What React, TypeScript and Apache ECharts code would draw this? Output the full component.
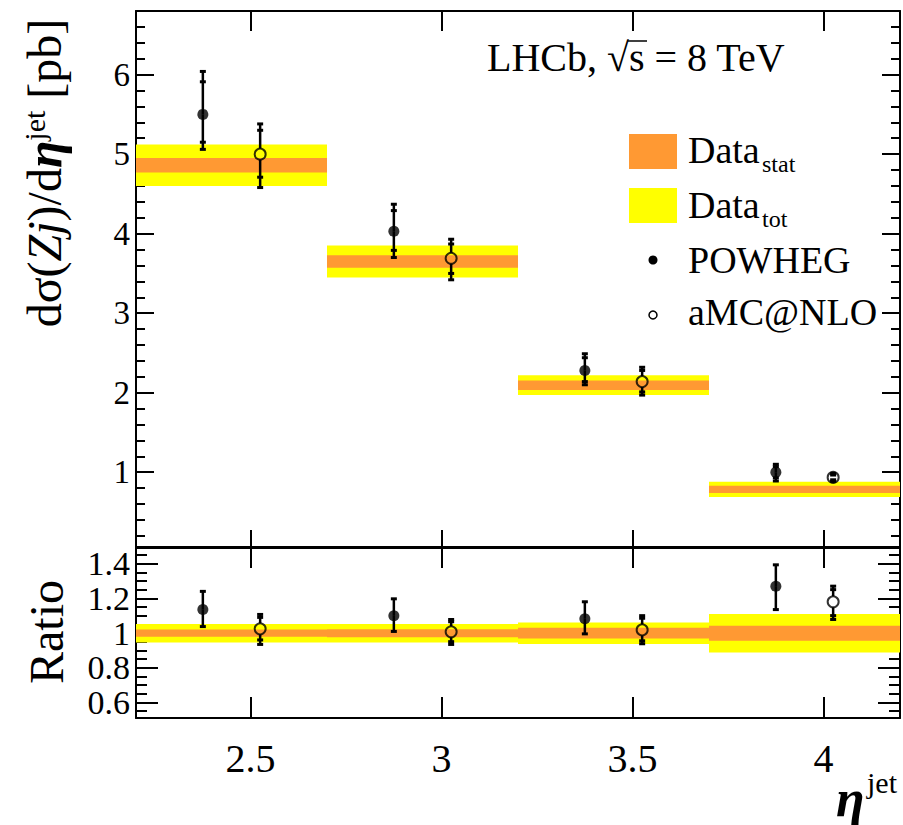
import React, { useEffect, useRef } from 'react';
import * as echarts from 'echarts';

// ---- data ----
const binLow = [2.2, 2.7, 3.2, 3.7];
const binHigh = [2.7, 3.2, 3.7, 4.2];
const dataCentral = [4.86, 3.65, 2.095, 0.785];
const dataStat = [0.09, 0.08, 0.06, 0.045];
const dataTot = [0.26, 0.2, 0.125, 0.095];

const powhegX = [2.375, 2.875, 3.375, 3.875];
const powhegY = [5.5, 4.03, 2.28, 1.0];
const powhegHi = [6.04, 4.37, 2.49, 1.1];
const powhegLo = [5.06, 3.7, 2.1, 0.89];
const powhegHiIn = [5.91, 4.29, 2.44, 1.07];
const powhegLoIn = [5.15, 3.79, 2.14, 0.93];

const amcX = [2.525, 3.025, 3.525, 4.025];
const amcY = [5.0, 3.69, 2.14, 0.935];
const amcHi = [5.38, 3.93, 2.32, 0.985];
const amcLo = [4.58, 3.42, 1.97, 0.885];
const amcHiIn = [5.3, 3.87, 2.28, 0.965];
const amcLoIn = [4.71, 3.5, 2.01, 0.905];

const ratioTotLo = [0.945, 0.945, 0.937, 0.888];
const ratioTotHi = [1.052, 1.052, 1.06, 1.11];
const ratioStatLo = [0.978, 0.976, 0.969, 0.955];
const ratioStatHi = [1.02, 1.022, 1.03, 1.042];

const ratioPowhegY = [1.136, 1.099, 1.082, 1.27];
const ratioPowhegHi = [1.24, 1.197, 1.18, 1.393];
const ratioPowhegLo = [1.037, 1.009, 0.995, 1.135];

const ratioAmcY = [1.024, 1.007, 1.018, 1.18];
const ratioAmcHi = [1.107, 1.078, 1.1, 1.27];
const ratioAmcLo = [0.934, 0.934, 0.938, 1.078];
const ratioAmcHiIn = [1.09, 1.065, 1.085, 1.25];
const ratioAmcLoIn = [0.96, 0.95, 0.955, 1.1];

const xTicks = [2.5, 3, 3.5, 4];
const yTicksTop = [1, 2, 3, 4, 5, 6];
const yTicksRatio = [0.6, 0.8, 1, 1.2, 1.4];

const minorTop: number[] = [];
for (let k = 1; k <= 33; k++) if (k % 5 !== 0) minorTop.push(+(k * 0.2).toFixed(2));
const minorRatio: number[] = [];
for (let k = 11; k <= 29; k++) if (k % 4 !== 0) minorRatio.push(+(k * 0.05).toFixed(2));

const FONT = 'Liberation Serif';
const ORANGE = '#ff9933';
const YELLOW = '#ffff00';

function xAxisDef(gridIndex: number, position: string, showLabels: boolean, tickLen: number) {
  return {
    type: 'value', gridIndex, position, min: 2.2, max: 4.2,
    axisLine: { show: true, onZero: false, lineStyle: { color: '#000', width: 2 } },
    axisTick: { show: true, inside: true, length: tickLen, customValues: xTicks, lineStyle: { color: '#000', width: 2 } },
    axisLabel: {
      show: showLabels, customValues: xTicks, margin: 20, fontSize: 40, fontFamily: FONT, color: '#000',
      formatter: (v: number) => String(v),
    },
    splitLine: { show: false },
  };
}

function yAxisDef(gridIndex: number, position: string, min: number, max: number, ticks: number[], len: number,
  showLabels: boolean, showLine: boolean, fontSize: number) {
  return {
    type: 'value', gridIndex, position, min, max,
    axisLine: { show: showLine, onZero: false, lineStyle: { color: '#000', width: 2 } },
    axisTick: { show: true, inside: true, length: len, customValues: ticks, lineStyle: { color: '#000', width: 2 } },
    axisLabel: {
      show: showLabels, customValues: ticks, margin: 6, fontSize, fontFamily: FONT, color: '#000',
      formatter: (v: number) => String(v),
    },
    splitLine: { show: false },
  };
}

function bandSeries(lo: number[], hi: number[], color: string, xIdx: number, yIdx: number, z: number) {
  return {
    type: 'custom', xAxisIndex: xIdx, yAxisIndex: yIdx, z, silent: true, clip: true,
    data: binLow.map((l, i) => [l, binHigh[i], lo[i], hi[i]]),
    renderItem: (_p: any, api: any) => {
      const a = api.coord([api.value(0), api.value(3)]);
      const b = api.coord([api.value(1), api.value(2)]);
      return { type: 'rect', shape: { x: a[0], y: a[1], width: b[0] - a[0], height: b[1] - a[1] }, style: { fill: color } };
    },
  };
}

function errSeries(x: number[], y: number[], lo: number[], hi: number[], loIn: number[] | null, hiIn: number[] | null,
  gap: number, xIdx: number, yIdx: number) {
  return {
    type: 'custom', xAxisIndex: xIdx, yAxisIndex: yIdx, z: 5, silent: true,
    data: x.map((xv, i) => [xv, y[i], lo[i], hi[i], loIn ? loIn[i] : NaN, hiIn ? hiIn[i] : NaN]),
    renderItem: (_p: any, api: any) => {
      const c = api.coord([api.value(0), api.value(1)]);
      const t = api.coord([api.value(0), api.value(3)]);
      const b = api.coord([api.value(0), api.value(2)]);
      const ls = { stroke: '#000', lineWidth: 2.5 };
      const cap = { stroke: '#000', lineWidth: 3 };
      const ch: any[] = [
        { type: 'line', shape: { x1: c[0], y1: t[1], x2: c[0], y2: c[1] - gap }, style: ls },
        { type: 'line', shape: { x1: c[0], y1: c[1] + gap, x2: c[0], y2: b[1] }, style: ls },
        { type: 'line', shape: { x1: c[0] - 3, y1: t[1], x2: c[0] + 3, y2: t[1] }, style: cap },
        { type: 'line', shape: { x1: c[0] - 3, y1: b[1], x2: c[0] + 3, y2: b[1] }, style: cap },
      ];
      const li = api.value(4), hiv = api.value(5);
      if (isFinite(li)) {
        const p = api.coord([api.value(0), li]);
        ch.push({ type: 'line', shape: { x1: c[0] - 3, y1: p[1], x2: c[0] + 3, y2: p[1] }, style: cap });
      }
      if (isFinite(hiv)) {
        const p = api.coord([api.value(0), hiv]);
        ch.push({ type: 'line', shape: { x1: c[0] - 3, y1: p[1], x2: c[0] + 3, y2: p[1] }, style: cap });
      }
      return { type: 'group', children: ch };
    },
  };
}

function markerSeries(x: number[], y: number[], open: boolean, xIdx: number, yIdx: number) {
  return {
    type: 'scatter', xAxisIndex: xIdx, yAxisIndex: yIdx, z: 6, silent: true,
    symbol: 'circle', symbolSize: 11,
    itemStyle: open ? { color: 'rgba(0,0,0,0)', borderColor: '#000', borderWidth: 2 } : { color: '#000' },
    data: x.map((xv, i) => [xv, y[i]]),
  };
}

function txt(x: number, y: number, text: string, size: number, extra: any = {}) {
  return {
    type: 'text', x, y, z: 100,
    style: {
      text, fontSize: size, fontFamily: FONT, fill: '#000',
      align: 'left', textAlign: 'left', verticalAlign: 'middle', textVerticalAlign: 'middle', ...extra,
    },
  };
}

export default function App() {
  const ref = useRef<HTMLDivElement>(null);
  useEffect(() => {
    if (!ref.current) return;
    const chart = echarts.init(ref.current, undefined, { renderer: 'svg' });

    const totLo = dataCentral.map((c, i) => c - dataTot[i]);
    const totHi = dataCentral.map((c, i) => c + dataTot[i]);
    const statLo = dataCentral.map((c, i) => c - dataStat[i]);
    const statHi = dataCentral.map((c, i) => c + dataStat[i]);

    const option: any = {
      animation: false,
      backgroundColor: '#fff',
      textStyle: { fontFamily: FONT },
      grid: [
        { left: 136, top: 11, width: 764, height: 536 },
        { left: 136, top: 548, width: 764, height: 170 },
      ],
      xAxis: [
        xAxisDef(0, 'bottom', false, 17),
        xAxisDef(0, 'top', false, 20),
        xAxisDef(1, 'bottom', true, 21),
        xAxisDef(1, 'top', false, 20),
      ],
      yAxis: [
        yAxisDef(0, 'left', 0.06, 6.8, yTicksTop, 18, true, true, 33),
        yAxisDef(0, 'left', 0.06, 6.8, minorTop, 9, false, false, 33),
        yAxisDef(0, 'right', 0.06, 6.8, yTicksTop, 18, false, true, 33),
        yAxisDef(0, 'right', 0.06, 6.8, minorTop, 9, false, false, 33),
        yAxisDef(1, 'left', 0.51, 1.49, yTicksRatio, 22, true, true, 34),
        yAxisDef(1, 'left', 0.51, 1.49, minorRatio, 11, false, false, 34),
        yAxisDef(1, 'right', 0.51, 1.49, yTicksRatio, 22, false, true, 34),
        yAxisDef(1, 'right', 0.51, 1.49, minorRatio, 11, false, false, 34),
      ],
      series: [
        bandSeries(totLo, totHi, YELLOW, 0, 0, 1),
        bandSeries(statLo, statHi, ORANGE, 0, 0, 2),
        errSeries(powhegX, powhegY, powhegLo, powhegHi, powhegLoIn, powhegHiIn, 0, 0, 0),
        errSeries(amcX, amcY, amcLo, amcHi, amcLoIn, amcHiIn, 5.5, 0, 0),
        markerSeries(powhegX, powhegY, false, 0, 0),
        markerSeries(amcX, amcY, true, 0, 0),
        bandSeries(ratioTotLo, ratioTotHi, YELLOW, 2, 4, 1),
        bandSeries(ratioStatLo, ratioStatHi, ORANGE, 2, 4, 2),
        errSeries(powhegX, ratioPowhegY, ratioPowhegLo, ratioPowhegHi, null, null, 0, 2, 4),
        errSeries(amcX, ratioAmcY, ratioAmcLo, ratioAmcHi, ratioAmcLoIn, ratioAmcHiIn, 5.5, 2, 4),
        markerSeries(powhegX, ratioPowhegY, false, 2, 4),
        markerSeries(amcX, ratioAmcY, true, 2, 4),
      ],
      graphic: [
        // y-axis title
        {
          type: 'text', x: 44, y: 173, rotation: Math.PI / 2, z: 100,
          style: {
            text: '{a|dσ(}{i|Zj}{a|)/d}{e|η}{s|jet}{a| [pb]}',
            align: 'center', textAlign: 'center', verticalAlign: 'middle', textVerticalAlign: 'middle',
            rich: {
              a: { fontSize: 48, fontFamily: FONT, lineHeight: 50, color: '#000' },
              i: { fontSize: 48, fontFamily: FONT, fontStyle: 'italic', lineHeight: 50, color: '#000' },
              e: { fontSize: 50, fontFamily: FONT, fontStyle: 'italic', fontWeight: 'bold', lineHeight: 50, color: '#000' },
              s: { fontSize: 30, fontFamily: FONT, verticalAlign: 'top', lineHeight: 30, color: '#000' },
            },
          },
        },
        // Ratio title
        {
          type: 'text', x: 46, y: 632, rotation: Math.PI / 2, z: 100,
          style: {
            text: 'Ratio', fontSize: 48, fontFamily: FONT, fill: '#000',
            align: 'center', textAlign: 'center', verticalAlign: 'middle', textVerticalAlign: 'middle',
          },
        },
        // x-axis title
        txt(836, 798, 'η', 52, { fontStyle: 'italic', fontWeight: 'bold' }),
        txt(867, 782, 'jet', 30),
        // LHCb label
        txt(487, 57, 'LHCb, √s = 8 TeV', 40),
        { type: 'line', z: 100, shape: { x1: 628, y1: 41, x2: 647, y2: 41 }, style: { stroke: '#000', lineWidth: 1.5 } },
        // legend
        { type: 'rect', z: 100, shape: { x: 629, y: 134, width: 48, height: 35 }, style: { fill: ORANGE } },
        { type: 'rect', z: 100, shape: { x: 629, y: 188, width: 48, height: 35 }, style: { fill: YELLOW } },
        { type: 'circle', z: 100, shape: { cx: 653, cy: 260, r: 4.5 }, style: { fill: '#000' } },
        { type: 'circle', z: 100, shape: { cx: 653, cy: 315, r: 4 }, style: { fill: 'none', stroke: '#000', lineWidth: 1.5 } },
        txt(688, 150, 'Data', 38),
        txt(762, 164, 'stat', 24),
        txt(688, 205, 'Data', 38),
        txt(762, 219, 'tot', 24),
        txt(688, 260, 'POWHEG', 38),
        txt(688, 312, 'aMC@NLO', 38),
      ],
    };
    chart.setOption(option);
    return () => chart.dispose();
  }, []);
  return (
    <div
      ref={ref}
      style={{ position: 'absolute', left: 0, top: 0, width: 903, height: 825, background: '#fff' }}
    />
  );
}
